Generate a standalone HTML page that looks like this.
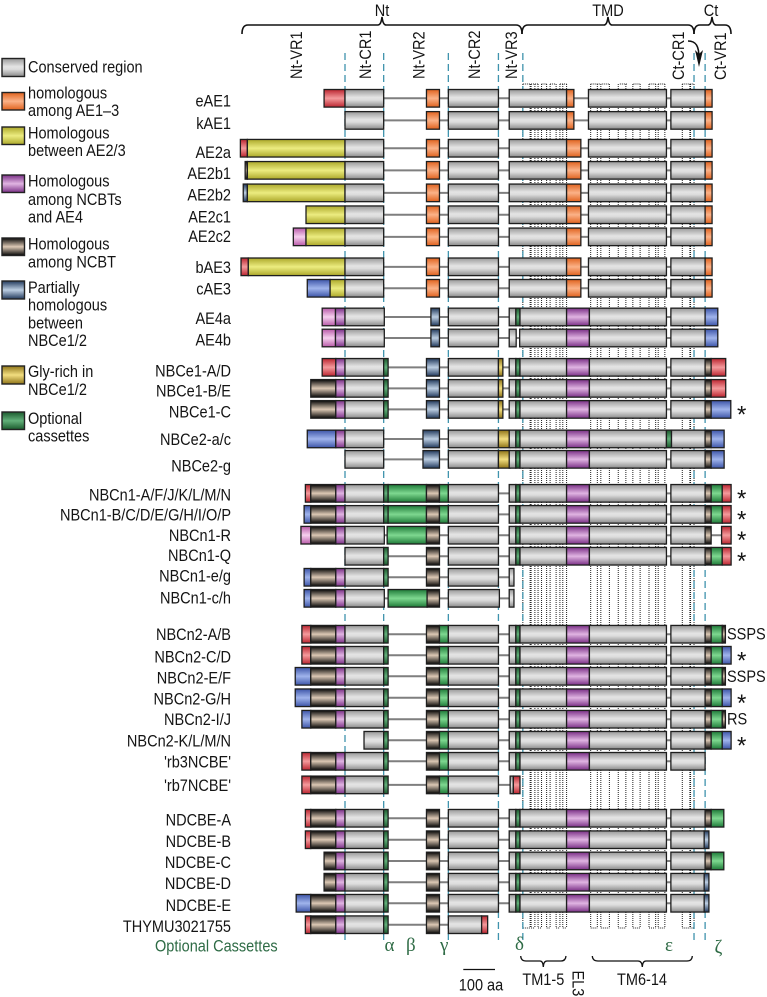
<!DOCTYPE html>
<html lang="en">
<head>
<meta charset="utf-8">
<title>Domain structure of SLC4 transporters</title>
<style>
html,body{margin:0;padding:0;background:#fff;width:767px;height:997px;overflow:hidden}
svg{display:block}
text{font-family:"Liberation Sans",sans-serif;font-size:17px;fill:#141414}
.greek{font-family:"Liberation Serif",serif;font-size:19px;fill:#2e6b45}
</style>
</head>
<body>
<svg id="figure" xmlns="http://www.w3.org/2000/svg" width="767" height="997" viewBox="0 0 767 997">
<defs>
<linearGradient id="g-gray" x1="0" y1="0" x2="0" y2="1"><stop offset="0" stop-color="#989898"/><stop offset=".45" stop-color="#e4e4e4"/><stop offset=".6" stop-color="#dcdcdc"/><stop offset="1" stop-color="#8a8a8a"/></linearGradient>
<linearGradient id="g-orange" x1="0" y1="0" x2="0" y2="1"><stop offset="0" stop-color="#e0621e"/><stop offset=".5" stop-color="#fbb288"/><stop offset="1" stop-color="#e0621e"/></linearGradient>
<linearGradient id="g-yellow" x1="0" y1="0" x2="0" y2="1"><stop offset="0" stop-color="#aca82a"/><stop offset=".5" stop-color="#ecec80"/><stop offset="1" stop-color="#aca82a"/></linearGradient>
<linearGradient id="g-purple" x1="0" y1="0" x2="0" y2="1"><stop offset="0" stop-color="#7a2f86"/><stop offset=".5" stop-color="#e0b4e2"/><stop offset="1" stop-color="#7a2f86"/></linearGradient>
<linearGradient id="g-dark" x1="0" y1="0" x2="0" y2="1"><stop offset="0" stop-color="#050505"/><stop offset=".5" stop-color="#dcc8b4"/><stop offset="1" stop-color="#050505"/></linearGradient>
<linearGradient id="g-bluegrey" x1="0" y1="0" x2="0" y2="1"><stop offset="0" stop-color="#21395c"/><stop offset=".5" stop-color="#bccee2"/><stop offset="1" stop-color="#21395c"/></linearGradient>
<linearGradient id="g-gold" x1="0" y1="0" x2="0" y2="1"><stop offset="0" stop-color="#8f7418"/><stop offset=".5" stop-color="#f2de80"/><stop offset="1" stop-color="#8f7418"/></linearGradient>
<linearGradient id="g-green" x1="0" y1="0" x2="0" y2="1"><stop offset="0" stop-color="#1e7a38"/><stop offset=".5" stop-color="#7ed890"/><stop offset="1" stop-color="#1e7a38"/></linearGradient>
<linearGradient id="g-cass" x1="0" y1="0" x2="0" y2="1"><stop offset="0" stop-color="#1b5a2d"/><stop offset=".5" stop-color="#62b07a"/><stop offset="1" stop-color="#1b5a2d"/></linearGradient>
<linearGradient id="g-red" x1="0" y1="0" x2="0" y2="1"><stop offset="0" stop-color="#bb2530"/><stop offset=".5" stop-color="#f49a9c"/><stop offset="1" stop-color="#bb2530"/></linearGradient>
<linearGradient id="g-pink" x1="0" y1="0" x2="0" y2="1"><stop offset="0" stop-color="#b85aa8"/><stop offset=".5" stop-color="#f6d0ee"/><stop offset="1" stop-color="#b85aa8"/></linearGradient>
<linearGradient id="g-blue" x1="0" y1="0" x2="0" y2="1"><stop offset="0" stop-color="#3d55a8"/><stop offset=".5" stop-color="#a0b4ec"/><stop offset="1" stop-color="#3d55a8"/></linearGradient>
</defs>

<g id="guides"></g>

<g fill="none" stroke="#111" stroke-width="1.6">
<path d="M242 34 Q242 25 248 25 L378 25 Q381 25 382 17 Q383 25 386 25 L516 25 Q522 25 522 34"/>
<path d="M522 34 Q522 25 528 25 L604 25 Q607 25 608 17 Q609 25 612 25 L688 25 Q694 25 694 34"/>
<path d="M694 34 Q694 25 700 25 L708 25 Q711 25 712 17 Q713 25 716 25 L725 25 Q731 25 731 34"/>
</g>
<text text-anchor="middle" transform="translate(382,16) scale(.855,1)">Nt</text>
<text text-anchor="middle" transform="translate(608,16) scale(.855,1)">TMD</text>
<text text-anchor="middle" transform="translate(711,16) scale(.855,1)">Ct</text>

<text transform="translate(302,79) rotate(-90) scale(.855,1)">Nt-VR1</text>
<text transform="translate(371,79) rotate(-90) scale(.855,1)">Nt-CR1</text>
<text transform="translate(424.5,79) rotate(-90) scale(.855,1)">Nt-VR2</text>
<text transform="translate(480,79) rotate(-90) scale(.855,1)">Nt-CR2</text>
<text transform="translate(517,79) rotate(-90) scale(.855,1)">Nt-VR3</text>
<text transform="translate(684,80) rotate(-90) scale(.855,1)">Ct-CR1</text>
<text transform="translate(726,80) rotate(-90) scale(.855,1)">Ct-VR1</text>
<path d="M688 41 C696 41 699 46 699 58" fill="none" stroke="#111" stroke-width="1.6"/>
<path d="M699 67 L695 50 L699 54 L703 50 Z" fill="#111"/>

<g stroke="#222" stroke-width="1.4">
<rect x="2" y="58.5" width="22.5" height="18" fill="url(#g-gray)"/>
<rect x="2" y="92.5" width="22.5" height="17.5" fill="url(#g-orange)"/>
<rect x="2" y="127" width="22.5" height="17.5" fill="url(#g-yellow)"/>
<rect x="2" y="175" width="22.5" height="17.5" fill="url(#g-purple)"/>
<rect x="2" y="238" width="22.5" height="17.5" fill="url(#g-dark)"/>
<rect x="2" y="281" width="22.5" height="18" fill="url(#g-bluegrey)"/>
<rect x="2" y="366" width="22.5" height="18" fill="url(#g-gold)"/>
<rect x="2" y="412" width="22.5" height="17.5" fill="url(#g-cass)"/>
</g>
<g>
<text transform="translate(28,72.7) scale(.855,1)">Conserved region</text>
<text transform="translate(28,98.3) scale(.855,1)">homologous</text>
<text transform="translate(28,116) scale(.855,1)">among AE1–3</text>
<text transform="translate(28,138.3) scale(.855,1)">Homologous</text>
<text transform="translate(28,156) scale(.855,1)">between AE2/3</text>
<text transform="translate(28,186.7) scale(.855,1)">Homologous</text>
<text transform="translate(28,205) scale(.855,1)">among NCBTs</text>
<text transform="translate(28,222.7) scale(.855,1)">and AE4</text>
<text transform="translate(28,249.3) scale(.855,1)">Homologous</text>
<text transform="translate(28,267.3) scale(.855,1)">among NCBT</text>
<text transform="translate(28,293) scale(.855,1)">Partially</text>
<text transform="translate(28,310.7) scale(.855,1)">homologous</text>
<text transform="translate(28,328.3) scale(.855,1)">between</text>
<text transform="translate(28,346) scale(.855,1)">NBCe1/2</text>
<text transform="translate(28,377) scale(.855,1)">Gly-rich in</text>
<text transform="translate(28,395) scale(.855,1)">NBCe1/2</text>
<text transform="translate(28,424) scale(.855,1)">Optional</text>
<text transform="translate(28,441.7) scale(.855,1)">cassettes</text>
</g>

<g id="rows"></g>

<text transform="translate(155,951.5) scale(.855,1)" style="fill:#2e6b45">Optional Cassettes</text>
<text class="greek" x="384.5" y="951">α</text>
<text class="greek" x="406" y="951">β</text>
<text class="greek" x="440" y="951">γ</text>
<text class="greek" x="515" y="950">δ</text>
<text class="greek" x="665" y="951">ε</text>
<text class="greek" x="714.5" y="953">ζ</text>

<line x1="463.3" y1="969.5" x2="495" y2="969.5" stroke="#111" stroke-width="1.2"/>
<text text-anchor="middle" transform="translate(481,990.7) scale(.855,1)">100 aa</text>
<path d="M520.7 956 Q521 961 526 961 L540 961 Q543 961 543.3 967 Q543.6 961 547 961 L561 961 Q565.5 961 566 956" fill="none" stroke="#111" stroke-width="1.3"/>
<path d="M592.3 956 Q592.6 961 598 961 L638 961 Q642 961 642.3 967 Q642.6 961 646 961 L687 961 Q692 961 692.3 956" fill="none" stroke="#111" stroke-width="1.3"/>
<text text-anchor="middle" transform="translate(543.3,985) scale(.855,1)">TM1-5</text>
<text text-anchor="middle" transform="translate(642,985) scale(.855,1)">TM6-14</text>
<text transform="translate(572.5,970.5) rotate(90) scale(.855,1)">EL3</text>

<script>
/* Domains are stated in amino-acid residues relative to the start of Nt-CR1. */
const regionBoundaries = [0, 122, 326, 484, 561, 1101, 1136];
const loopEdgesBottom = [[561,584],[587,599],[609,620],[636,647],[666,678],[687,699],[775,796],[807,834],[862,886],[908,931],[959,980],[988,1009],[1064,1088],[1090,1101]];
const loopEdgesTop = [[561,584],[587,609],[620,636],[647,666],[678,699],[775,807],[810,834],[867,890],[910,931],[960,981],[988,1009],[1064,1101]];

/* shared parts of the domain architectures: [kind, first residue, last residue] */
const aeCore = [['gray',0,122],['orange',257,298],['gray',326,484]];
const aeTmdWide = [['gray',518,699],['orange',699,744],['gray',768,1014],['gray',1028,1136],['orange',1136,1158]];
const aeTmdNarrow = [['gray',518,699],['orange',699,722],['gray',768,1014],['gray',1028,1136],['orange',1136,1158]];
const ncTmd = [['gray',518,539],['cass',539,552],['gray',552,699],['purple',699,771],['gray',771,1014],['gray',1028,1136]];
const e1Core = [['gray',0,122],['cass',122,136],['bluegrey',257,298],['gray',326,484],['gold',484,498]];
const ae4Core = [['gray',0,124],['bluegrey',271,298],['gray',326,484]];
const e2Core = [['gray',0,122],['bluegrey',246,298],['gray',326,484],['gold',484,520]];
const n1Long = [['gray',0,122],['cass',122,136],['green',136,257],['dark',257,298],['green',298,326],['gray',326,484]];
const n1Short = [['gray',0,122],['cass',122,136],['dark',257,298],['gray',326,484]];
const n2Core = [['gray',0,122],['cass',122,136],['dark',257,298],['green',298,326],['gray',326,484]];
const vr1Ncbt = [['dark',-108,-29],['purple',-29,0]];
const ctE1 = [['dark',1136,1155],['red',1155,1201]];
const ctE1C = [['dark',1136,1155],['blue',1155,1217]];
const ctE2 = [['dark',1136,1155],['blue',1155,1196]];
const ctN1 = [['dark',1136,1155],['green',1155,1190],['red',1190,1218]];
const ctN2Short = [['dark',1136,1155],['green',1155,1190],['dark',1190,1200]];
const ctN2Long = [['dark',1136,1155],['green',1155,1190],['blue',1190,1218]];
const ctNdLong = [['dark',1136,1155],['green',1155,1195]];
const ctNdShort = [['bluegrey',1133,1148]];

const rowNames = ['eAE1','kAE1','AE2a','AE2b1','AE2b2','AE2c1','AE2c2','bAE3','cAE3','AE4a','AE4b','NBCe1-A/D','NBCe1-B/E','NBCe1-C','NBCe2-a/c','NBCe2-g','NBCn1-A/F/J/K/L/M/N','NBCn1-B/C/D/E/G/H/I/O/P','NBCn1-R','NBCn1-Q','NBCn1-e/g','NBCn1-c/h','NBCn2-A/B','NBCn2-C/D','NBCn2-E/F','NBCn2-G/H','NBCn2-I/J','NBCn2-K/L/M/N',"'rb3NCBE'","'rb7NCBE'",'NDCBE-A','NDCBE-B','NDCBE-C','NDCBE-D','NDCBE-E','THYMU3021755'];
const rowSlots = [0,1.04,2.35,3.39,4.45,5.48,6.52,7.93,8.94,10.29,11.28,12.66,13.65,14.64,16.03,16.99,18.59,19.58,20.56,21.55,22.54,23.53,25.22,26.21,27.2,28.21,29.22,30.21,31.2,32.31,33.88,34.89,35.89,36.89,37.88,38.89];
const labelOffsets = [2.3,2.5,3.7,2.5,1.5,1.7,-1,.3,0,.8,1.3,3,2,2,.3,6,1,0,0,-1,-2,-1,0,1,1,.5,0,0,0,0,1.3,1.5,1,1,1.7,1.3];
const rowNotes = {13:'*',16:'*',17:'*',18:'*',19:'*',22:'SSPS',23:'*',24:'SSPS',25:'*',26:'RS',27:'*'};

const rowSegments = [
  [['red',-66,0],...aeCore,...aeTmdNarrow],
  [...aeCore,...aeTmdNarrow],
  [['red',-330,-308],['yellow',-308,0],...aeCore,...aeTmdWide],
  [['dark',-315,-308],['yellow',-308,0],...aeCore,...aeTmdWide],
  [['bluegrey',-321,-308],['yellow',-308,0],...aeCore,...aeTmdWide],
  [['yellow',-123,0],...aeCore,...aeTmdWide],
  [['pink',-163,-123],['yellow',-123,0],...aeCore,...aeTmdWide],
  [['red',-328,-305],['yellow',-305,0],...aeCore,...aeTmdWide],
  [['blue',-119,-47],['yellow',-47,0],...aeCore,...aeTmdWide],
  [['pink',-72,-30],['purple',-30,0],...ae4Core,...ncTmd,['blue',1136,1176]],
  [['pink',-72,-30],['purple',-30,0],...ae4Core,['gray',518,540],['gray',551,699],['purple',699,771],['gray',771,1014],['gray',1028,1136],['blue',1136,1176]],
  [['red',-72,-29],['purple',-29,0],...e1Core,...ncTmd,...ctE1],
  [['dark',-108,-29],['purple',-29,0],...e1Core,...ncTmd,...ctE1],
  [['dark',-108,-29],['purple',-29,0],...e1Core,...ncTmd,...ctE1C],
  [['blue',-119,-29],['purple',-29,0],...e2Core,...ncTmd,['cass',1014,1030],['gray',1030,1136],...ctE2],
  [...e2Core,...ncTmd,...ctE2],
  [['red',-125,-108],...vr1Ncbt,...n1Long,...ncTmd,...ctN1],
  [['blue',-129,-108],...vr1Ncbt,...n1Long,...ncTmd,...ctN1],
  [['pink',-139,-108],...vr1Ncbt,['gray',0,124],['green',133,257],['dark',257,298],['gray',326,484],...ncTmd,['dark',1136,1155],['red',1188,1218]],
  [...n1Short,...ncTmd,...ctN1],
  [['blue',-129,-108],...vr1Ncbt,...n1Short,['gray',518,533]],
  [['blue',-129,-108],...vr1Ncbt,['gray',0,124],['green',136,259],['dark',259,298],['gray',326,487],['gray',518,533]],
  [['red',-136,-108],...vr1Ncbt,...n2Core,...ncTmd,...ctN2Short],
  [['red',-136,-108],...vr1Ncbt,...n2Core,...ncTmd,...ctN2Long],
  [['blue',-157,-108],...vr1Ncbt,...n2Core,...ncTmd,...ctN2Short],
  [['blue',-157,-108],...vr1Ncbt,...n2Core,...ncTmd,...ctN2Long],
  [['blue',-136,-108],...vr1Ncbt,...n2Core,...ncTmd,...ctN2Short],
  [['gray',60,122],['cass',122,136],['dark',257,298],['green',298,326],['gray',326,484],...ncTmd,...ctN2Long],
  [['red',-136,-108],...vr1Ncbt,...n2Core,...ncTmd],
  [['red',-136,-108],...vr1Ncbt,...n2Core,['gray',521,531],['red',531,552]],
  [['red',-125,-108],...vr1Ncbt,...n1Short,...ncTmd,...ctNdLong],
  [['red',-125,-108],...vr1Ncbt,...n1Short,...ncTmd,...ctNdShort],
  [['dark',-66,-29],['purple',-29,0],...n1Short,...ncTmd,...ctNdLong],
  [['dark',-66,-29],['purple',-29,0],...n1Short,...ncTmd,...ctNdShort],
  [['blue',-154,-108],...vr1Ncbt,...n1Short,...ncTmd,...ctNdShort],
  [['red',-125,-108],...vr1Ncbt,['gray',0,122],['cass',122,136],['dark',257,298],['gray',326,431],['red',431,450]]
];

const NS = 'http://www.w3.org/2000/svg';
const xScale = aa => 345 + aa * 0.317;
const yScale = slot => 98.3 + slot * 21.25;
const BOX_H = 17.6;
const guides = document.getElementById('guides');
const rowsLayer = document.getElementById('rows');

function make(tag, attrs, parent) {
  const el = document.createElementNS(NS, tag);
  for (const k in attrs) el.setAttribute(k, attrs[k]);
  parent.appendChild(el);
  return el;
}

/* transmembrane loops, dotted */
const TOP_Y = 84, BOTTOM_Y = 928;
const loopEdges = [...new Set(loopEdgesBottom.flat())];
loopEdges.forEach(function (aa) {
  const el = make('line', {x1: xScale(aa), x2: xScale(aa), y1: TOP_Y, y2: BOTTOM_Y, stroke: '#222', 'stroke-width': 1, 'stroke-dasharray': '1 1'}, guides);
  
  
});
loopEdgesBottom.forEach(function (pair) {
  const el = make('line', {x1: xScale(pair[0]), x2: xScale(pair[1]), y1: BOTTOM_Y, y2: BOTTOM_Y, stroke: '#222', 'stroke-width': 1, 'stroke-dasharray': '1 1'}, guides);
  
  
});
loopEdgesTop.forEach(function (pair) {
  const el = make('line', {x1: xScale(pair[0]), x2: xScale(pair[1]), y1: TOP_Y, y2: TOP_Y, stroke: '#222', 'stroke-width': 1, 'stroke-dasharray': '1 1'}, guides);
  
  
});

/* region boundaries, dashed teal */
regionBoundaries.forEach(function (aa) {
  const el = make('line', {x1: xScale(aa), x2: xScale(aa), y1: 53, y2: 941, stroke: '#3f93ad', 'stroke-width': 1.3, 'stroke-dasharray': '7 4'}, guides);
  
  
});

/* protein rows */
rowNames.forEach(function (name, i) {
  const cy = yScale(rowSlots[i]);
  const segs = rowSegments[i];
  const row = make('g', {}, rowsLayer);
  
  

  const label = make('text', {'text-anchor': 'end', transform: 'translate(231,' + (cy + labelOffsets[i] + 6) + ') scale(.855,1)'}, row);
  label.textContent = name;
  
  

  const first = Math.min.apply(null, segs.map(s => s[1]));
  const last = Math.max.apply(null, segs.map(s => s[2]));
  const backbone = make('line', {x1: xScale(first), x2: xScale(last), y1: cy, y2: cy, stroke: '#7f7f7f', 'stroke-width': 2}, row);
  
  

  segs.forEach(function (s) {
    const box = make('rect', {x: xScale(s[1]), y: cy - BOX_H / 2, width: xScale(s[2]) - xScale(s[1]), height: BOX_H, fill: 'url(#g-' + s[0] + ')', stroke: '#1e1e1e', 'stroke-width': 1.3}, row);
    
    
  });

  const note = rowNotes[i];
  if (note === '*') {
    const star = make('text', {x: 741.7, y: cy + 13, 'text-anchor': 'middle', style: 'font-size:24px'}, row);
    star.textContent = note;
    
    
  } else if (note) {
    const tag = make('text', {transform: 'translate(727,' + (cy + 5.5) + ') scale(.855,1)'}, row);
    tag.textContent = note;
    
    
  }
});
</script>
</svg>
</body>
</html>
